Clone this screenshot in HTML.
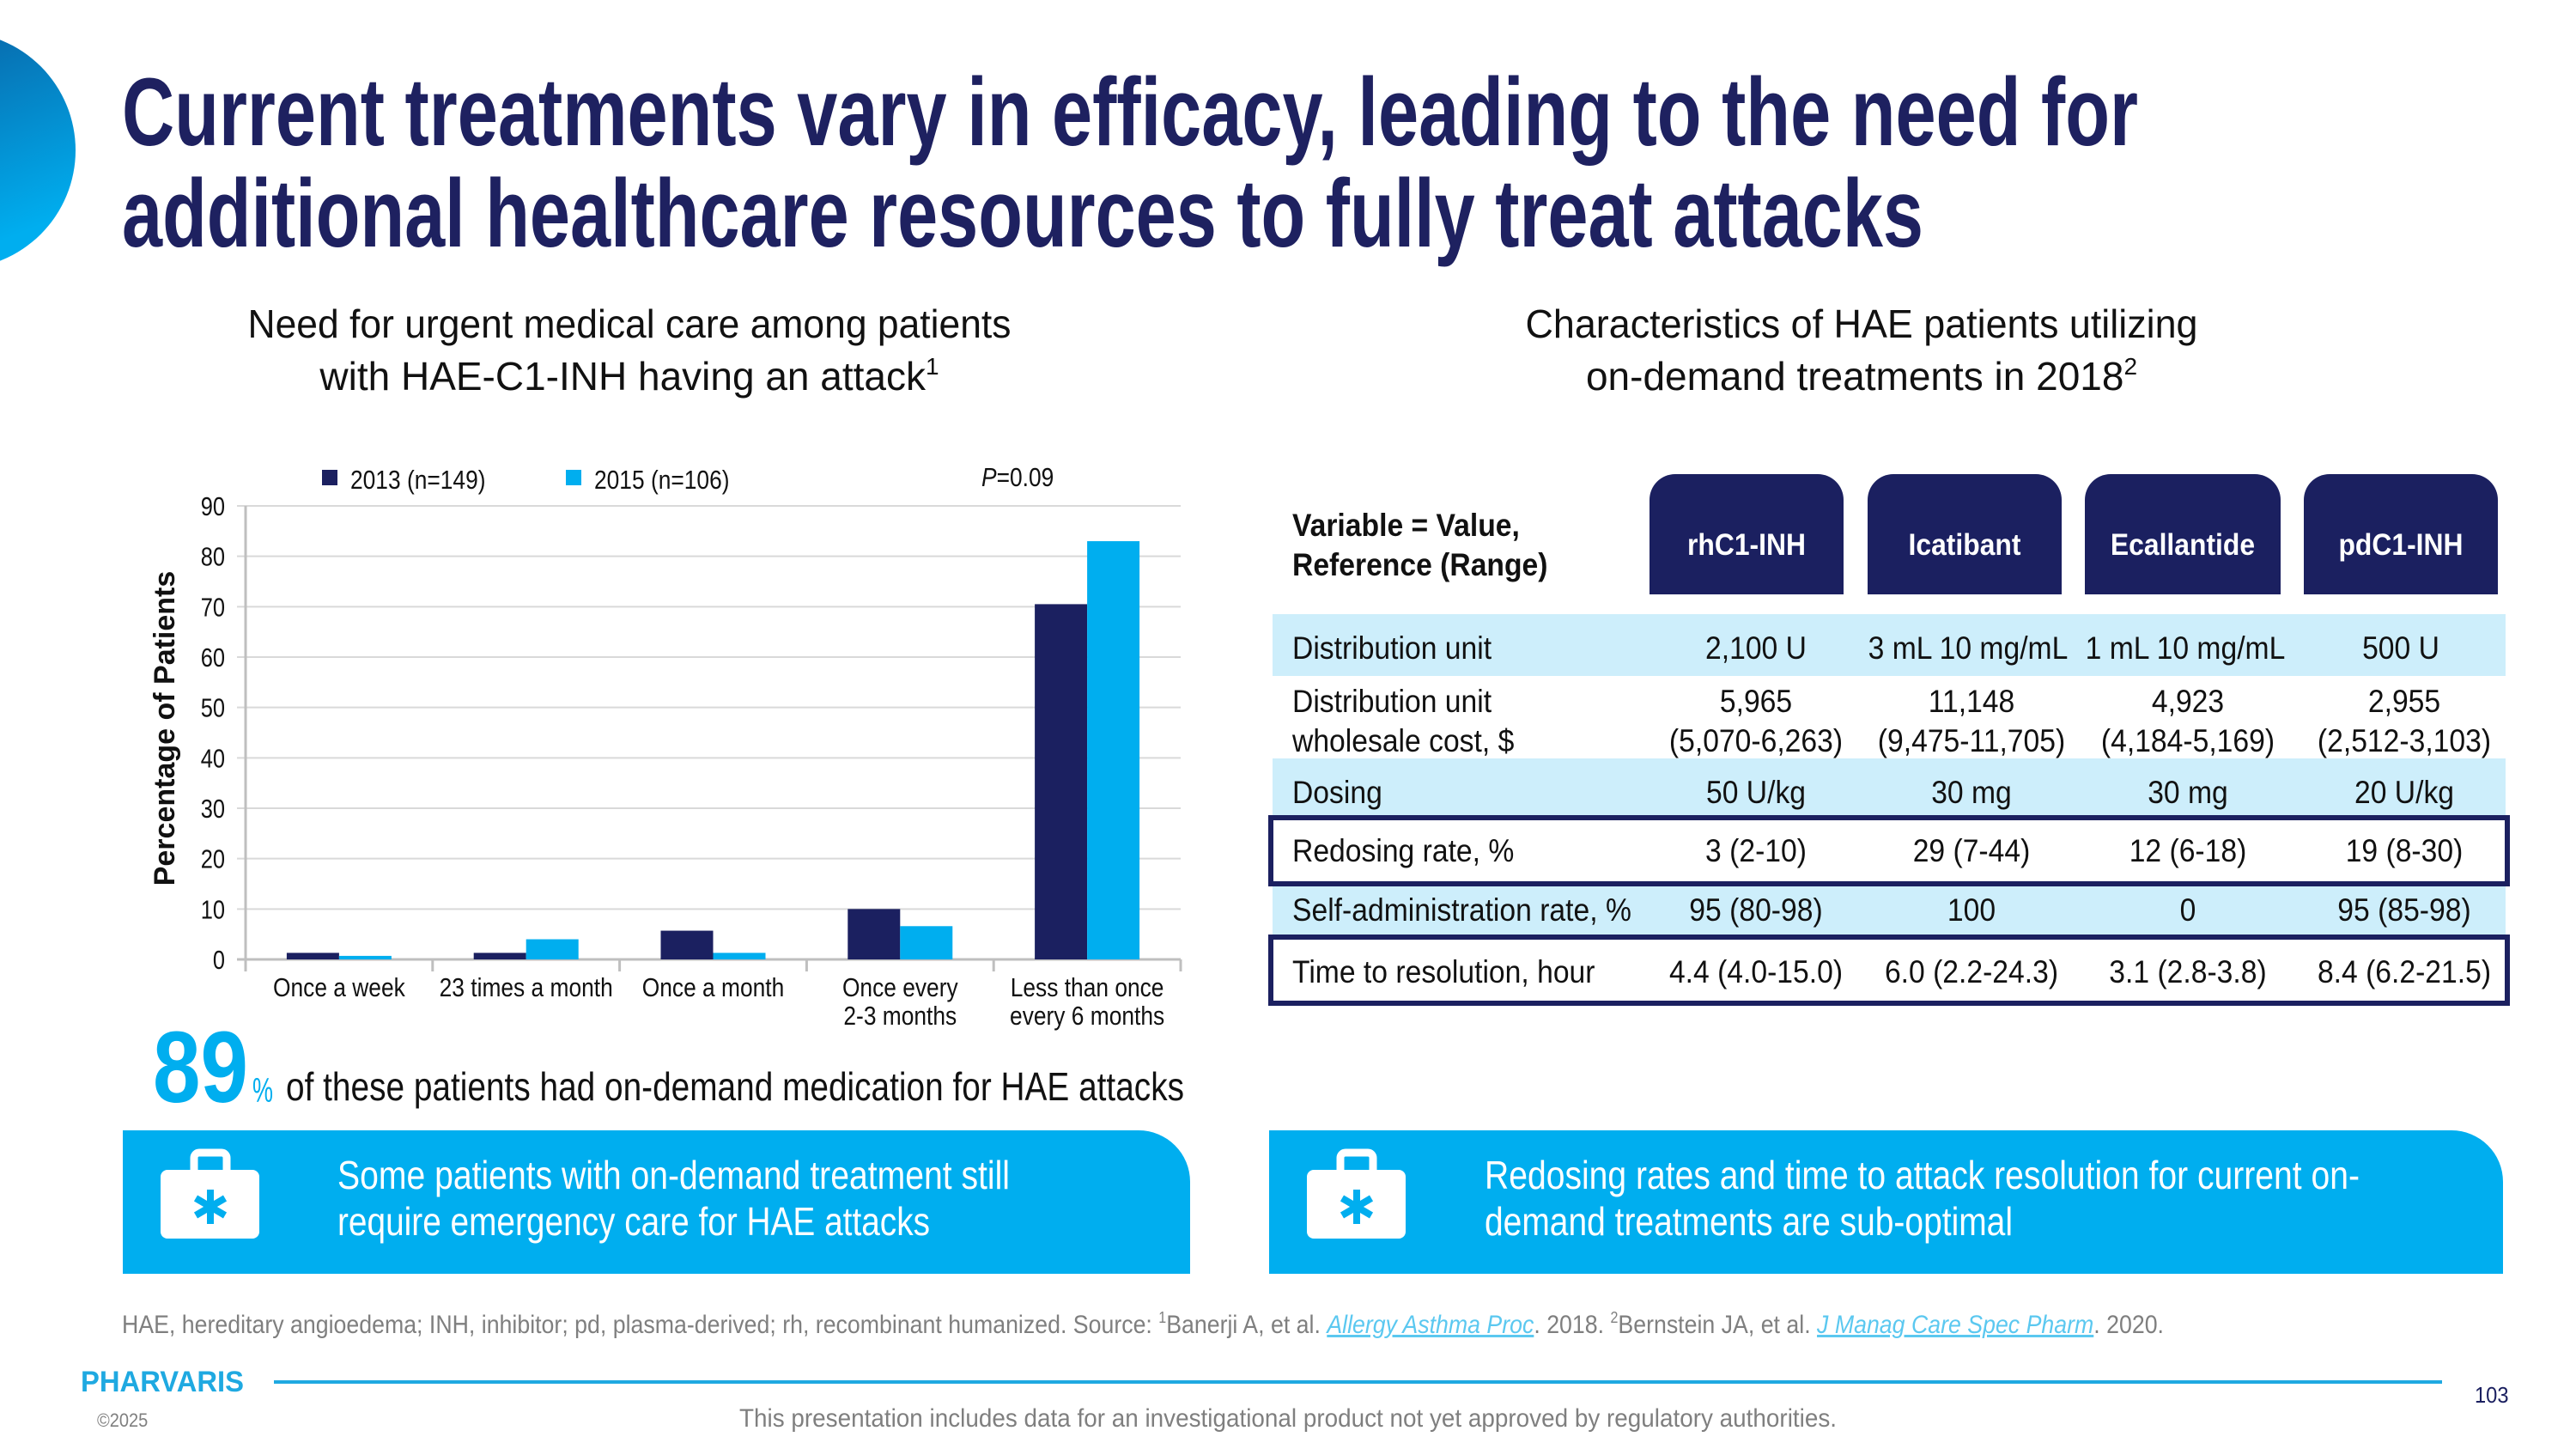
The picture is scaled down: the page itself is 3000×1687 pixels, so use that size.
<!DOCTYPE html>
<html><head><meta charset="utf-8"><style>
html,body{margin:0;padding:0;background:#fff;}
svg{display:block;}
.n{font-family:"Liberation Sans Narrow","Liberation Sans",sans-serif;}
.s{font-family:"Liberation Sans",sans-serif;}
</style></head><body>
<svg id="slide" width="3000" height="1687" viewBox="0 0 3000 1687" xmlns="http://www.w3.org/2000/svg">
<defs>
<linearGradient id="cg" x1="0" y1="0" x2="0.4" y2="1"><stop offset="0" stop-color="#0a5a9c"/><stop offset="1" stop-color="#00aeef"/></linearGradient>
</defs>
<circle cx="-50" cy="175" r="138" fill="url(#cg)"/>
<g fill="#1e2160" font-weight="bold" font-size="112" class="n">
<text x="142" y="169" textLength="2348" lengthAdjust="spacingAndGlyphs">Current treatments vary in efficacy, leading to the need for</text>
<text x="142" y="287" textLength="2098" lengthAdjust="spacingAndGlyphs">additional healthcare resources to fully treat attacks</text>
</g>
<g class="n" font-size="46" fill="#111" text-anchor="middle">
<text x="733" y="393" textLength="889" lengthAdjust="spacingAndGlyphs">Need for urgent medical care among patients</text>
<text x="733" y="454">with HAE-C1-INH having an attack<tspan font-size="28" dy="-18">1</tspan></text>
</g>
<g class="n" font-size="46" fill="#111" text-anchor="middle">
<text x="2168" y="393" textLength="783" lengthAdjust="spacingAndGlyphs">Characteristics of HAE patients utilizing</text>
<text x="2168" y="454">on-demand treatments in 2018<tspan font-size="28" dy="-18">2</tspan></text>
</g>

<g id="chart"></g>

<g>
<text x="178" y="1283" class="n" font-weight="bold" font-size="118" fill="#00aeef" textLength="111" lengthAdjust="spacingAndGlyphs">89</text>
<text x="294" y="1283" class="n" font-size="40" fill="#00aeef" textLength="24" lengthAdjust="spacingAndGlyphs">%</text>
<text x="333" y="1281" class="n" font-size="46" fill="#111" textLength="1046" lengthAdjust="spacingAndGlyphs">of these patients had on-demand medication for HAE attacks</text>
</g>

<g>
<path d="M143 1316 H1326 A60 60 0 0 1 1386 1376 V1483 H143 Z" fill="#00aeef"/>
<g>
<rect x="226" y="1342" width="38" height="30" rx="6" fill="none" stroke="#fff" stroke-width="9"/>
<rect x="187" y="1362" width="115" height="80" rx="8" fill="#fff"/>
<g stroke="#00aeef" stroke-width="8"><line x1="245" y1="1385" x2="245" y2="1425"/><line x1="228" y1="1395" x2="262" y2="1415"/><line x1="228" y1="1415" x2="262" y2="1395"/></g>
</g>
<text x="393" y="1384" class="n" font-size="46" fill="#fff" textLength="783" lengthAdjust="spacingAndGlyphs">Some patients with on-demand treatment still</text>
<text x="393" y="1438" class="n" font-size="46" fill="#fff" textLength="690" lengthAdjust="spacingAndGlyphs">require emergency care for HAE attacks</text>
</g>
<g>
<path d="M1478 1316 H2855 A60 60 0 0 1 2915 1376 V1483 H1478 Z" fill="#00aeef"/>
<g>
<rect x="1561" y="1342" width="38" height="30" rx="6" fill="none" stroke="#fff" stroke-width="9"/>
<rect x="1522" y="1362" width="115" height="80" rx="8" fill="#fff"/>
<g stroke="#00aeef" stroke-width="8"><line x1="1580" y1="1385" x2="1580" y2="1425"/><line x1="1563" y1="1395" x2="1597" y2="1415"/><line x1="1563" y1="1415" x2="1597" y2="1395"/></g>
</g>
<text x="1729" y="1384" class="n" font-size="46" fill="#fff" textLength="1019" lengthAdjust="spacingAndGlyphs">Redosing rates and time to attack resolution for current on-</text>
<text x="1729" y="1438" class="n" font-size="46" fill="#fff" textLength="615" lengthAdjust="spacingAndGlyphs">demand treatments are sub-optimal</text>
</g>

<g class="n">
<text class="n" x="1505" y="624" font-size="37" font-weight="bold" fill="#111">Variable = Value,</text>
<text class="n" x="1505" y="670" font-size="37" font-weight="bold" fill="#111">Reference (Range)</text>
<g fill="#1b2060">
<path d="M1921 692 V582 A30 30 0 0 1 1951 552 H2117 A30 30 0 0 1 2147 582 V692 Z"/>
<path d="M2175 692 V582 A30 30 0 0 1 2205 552 H2371 A30 30 0 0 1 2401 582 V692 Z"/>
<path d="M2428 692 V582 A30 30 0 0 1 2458 552 H2626 A30 30 0 0 1 2656 582 V692 Z"/>
<path d="M2683 692 V582 A30 30 0 0 1 2713 552 H2879 A30 30 0 0 1 2909 582 V692 Z"/>
</g>
<g font-size="35" font-weight="bold" fill="#fff" text-anchor="middle">
<text class="n" x="2034" y="646">rhC1-INH</text><text class="n" x="2288" y="646">Icatibant</text><text class="n" x="2542" y="646">Ecallantide</text><text class="n" x="2796" y="646">pdC1-INH</text>
</g>
<rect x="1482" y="715" width="1436" height="72" fill="#cdeefb"/>
<rect x="1482" y="883" width="1436" height="66" fill="#cdeefb"/>
<rect x="1482" y="1032" width="1436" height="56" fill="#cdeefb"/>
<rect x="1480" y="952" width="1440" height="77" fill="none" stroke="#1b2060" stroke-width="6"/>
<rect x="1480" y="1091" width="1440" height="77" fill="none" stroke="#1b2060" stroke-width="6"/>
<g font-size="37" fill="#111">
<text class="n" x="1505" y="767">Distribution unit</text>
<text class="n" x="1505" y="829">Distribution unit</text>
<text class="n" x="1505" y="875">wholesale cost, $</text>
<text class="n" x="1505" y="935">Dosing</text>
<text class="n" x="1505" y="1003">Redosing rate, %</text>
<text class="n" x="1505" y="1072">Self-administration rate, %</text>
<text class="n" x="1505" y="1144">Time to resolution, hour</text>
</g>
<g font-size="37" fill="#111" text-anchor="middle">
<text class="n" x="2045" y="767">2,100 U</text><text class="n" x="2292" y="767">3 mL 10 mg/mL</text><text class="n" x="2545" y="767">1 mL 10 mg/mL</text><text class="n" x="2796" y="767">500 U</text>
<text class="n" x="2045" y="829">5,965</text><text class="n" x="2296" y="829">11,148</text><text class="n" x="2548" y="829">4,923</text><text class="n" x="2800" y="829">2,955</text>
<text class="n" x="2045" y="875">(5,070-6,263)</text><text class="n" x="2296" y="875">(9,475-11,705)</text><text class="n" x="2548" y="875">(4,184-5,169)</text><text class="n" x="2800" y="875">(2,512-3,103)</text>
<text class="n" x="2045" y="935">50 U/kg</text><text class="n" x="2296" y="935">30 mg</text><text class="n" x="2548" y="935">30 mg</text><text class="n" x="2800" y="935">20 U/kg</text>
<text class="n" x="2045" y="1003">3 (2-10)</text><text class="n" x="2296" y="1003">29 (7-44)</text><text class="n" x="2548" y="1003">12 (6-18)</text><text class="n" x="2800" y="1003">19 (8-30)</text>
<text class="n" x="2045" y="1072">95 (80-98)</text><text class="n" x="2296" y="1072">100</text><text class="n" x="2548" y="1072">0</text><text class="n" x="2800" y="1072">95 (85-98)</text>
<text class="n" x="2045" y="1144">4.4 (4.0-15.0)</text><text class="n" x="2296" y="1144">6.0 (2.2-24.3)</text><text class="n" x="2548" y="1144">3.1 (2.8-3.8)</text><text class="n" x="2800" y="1144">8.4 (6.2-21.5)</text>
</g>
</g>

<text x="142" y="1552" class="n" font-size="30" fill="#7f7f7f" textLength="2378" lengthAdjust="spacingAndGlyphs">HAE, hereditary angioedema; INH, inhibitor; pd, plasma-derived; rh, recombinant humanized. Source: <tspan font-size="18" dy="-12">1</tspan><tspan dy="12">Banerji A, et al. </tspan><tspan fill="#5bc8f0" font-style="italic" text-decoration="underline">Allergy Asthma Proc</tspan>. 2018. <tspan font-size="18" dy="-12">2</tspan><tspan dy="12">Bernstein JA, et al. </tspan><tspan fill="#5bc8f0" font-style="italic" text-decoration="underline">J Manag Care Spec Pharm</tspan>. 2020.</text>
<text x="94" y="1620" class="n" font-size="34" font-weight="bold" fill="#1fa9e1" textLength="190" lengthAdjust="spacingAndGlyphs">PHARVARIS</text>
<line x1="319" y1="1609" x2="2844" y2="1609" stroke="#1fa9e1" stroke-width="4"/>
<text x="2882" y="1633" class="n" font-size="26" fill="#1b2060">103</text>
<text x="113" y="1661" class="n" font-size="22" fill="#7f7f7f">©2025</text>
<text x="861" y="1661" class="n" font-size="30" fill="#7f7f7f" textLength="1278" lengthAdjust="spacingAndGlyphs">This presentation includes data for an investigational product not yet approved by regulatory authorities.</text>
</svg>
<script>
const categories=[["Once a week"],["23 times a month"],["Once a month"],["Once every","2-3 months"],["Less than once","every 6 months"]];
const series2013=[1.3,1.3,5.7,10,70.5];
const series2015=[0.7,4.0,1.3,6.6,83];
const yTicks=[0,10,20,30,40,50,60,70,80,90];
const seriesNames=["2013 (n=149)","2015 (n=106)"];
(function(){
const NS="http://www.w3.org/2000/svg";
const g=document.getElementById('chart');
const X0=286,X1=1375,Y0=1117,Y90=589,YMAX=90;
const band=(X1-X0)/categories.length;
const bw=61;
const y=v=>Y0-(v/YMAX)*(Y0-Y90);
const xc=i=>X0+band*(i+0.5);
function mk(t,a){const e=document.createElementNS(NS,t);for(const k in a)e.setAttribute(k,a[k]);g.appendChild(e);return e;}
yTicks.forEach(t=>{
 const l=mk('line',{x1:X0-10,x2:X1,y1:y(t),y2:y(t),stroke:t===0?'#bfbfbf':'#d9d9d9','stroke-width':t===0?3:2});
 
 
 const tx=mk('text',{x:262,y:y(t)+11,'text-anchor':'end','font-size':31,fill:'#111',class:'n','data-sq':'0.82'});
 tx.textContent=t;
 
 
});
const ax=mk('line',{x1:X0,x2:X0,y1:Y90,y2:Y0+12,stroke:'#bfbfbf','stroke-width':3});


for(let i=0;i<=categories.length;i++){
 const tk=mk('line',{x1:X0+band*i,x2:X0+band*i,y1:Y0,y2:Y0+14,stroke:'#bfbfbf','stroke-width':3});
 
 
}
categories.forEach((c,i)=>{
 const a=mk('rect',{x:xc(i)-bw,y:y(series2013[i]),width:bw,height:Y0-y(series2013[i]),fill:'#1b2060'});
 
 
 const b=mk('rect',{x:xc(i),y:y(series2015[i]),width:bw,height:Y0-y(series2015[i]),fill:'#00aeef'});
 
 
 c.forEach((line,j)=>{
  const t=mk('text',{x:xc(i),y:1160+j*33,'text-anchor':'middle','font-size':31,fill:'#111',class:'n','data-sq':'0.85'});
  t.textContent=line;
  
  
 });
});
const yl=mk('text',{x:0,y:0,transform:'translate(203,848) rotate(-90)','text-anchor':'middle','font-size':34,'font-weight':'bold',fill:'#111',class:'s'});
yl.textContent='Percentage of Patients';


const cols=['#1b2060','#00aeef'],lx=[375,659];
seriesNames.forEach((n,i)=>{
 const r=mk('rect',{x:lx[i],y:547,width:18,height:18,fill:cols[i]});
 
 
 const t=mk('text',{x:lx[i]+33,y:569,'font-size':31,fill:'#111',class:'n','data-sq':'0.85'});
 t.textContent=n;
 
 
});
const p=mk('text',{x:1143,y:566,'font-size':31,fill:'#111',class:'n','data-sq':'0.85'});
p.innerHTML='<tspan font-style="italic">P</tspan>=0.09';


// squeeze Liberation text to approximate the condensed typeface
document.querySelectorAll('#slide text.n').forEach(t=>{
 if(t.hasAttribute('textLength'))return;
 const f=parseFloat(t.getAttribute('data-sq')||'0.91');
 const L=t.getComputedTextLength();
 t.setAttribute('textLength',(L*f).toFixed(1));
 t.setAttribute('lengthAdjust','spacingAndGlyphs');
});
})();
</script>
</body></html>
